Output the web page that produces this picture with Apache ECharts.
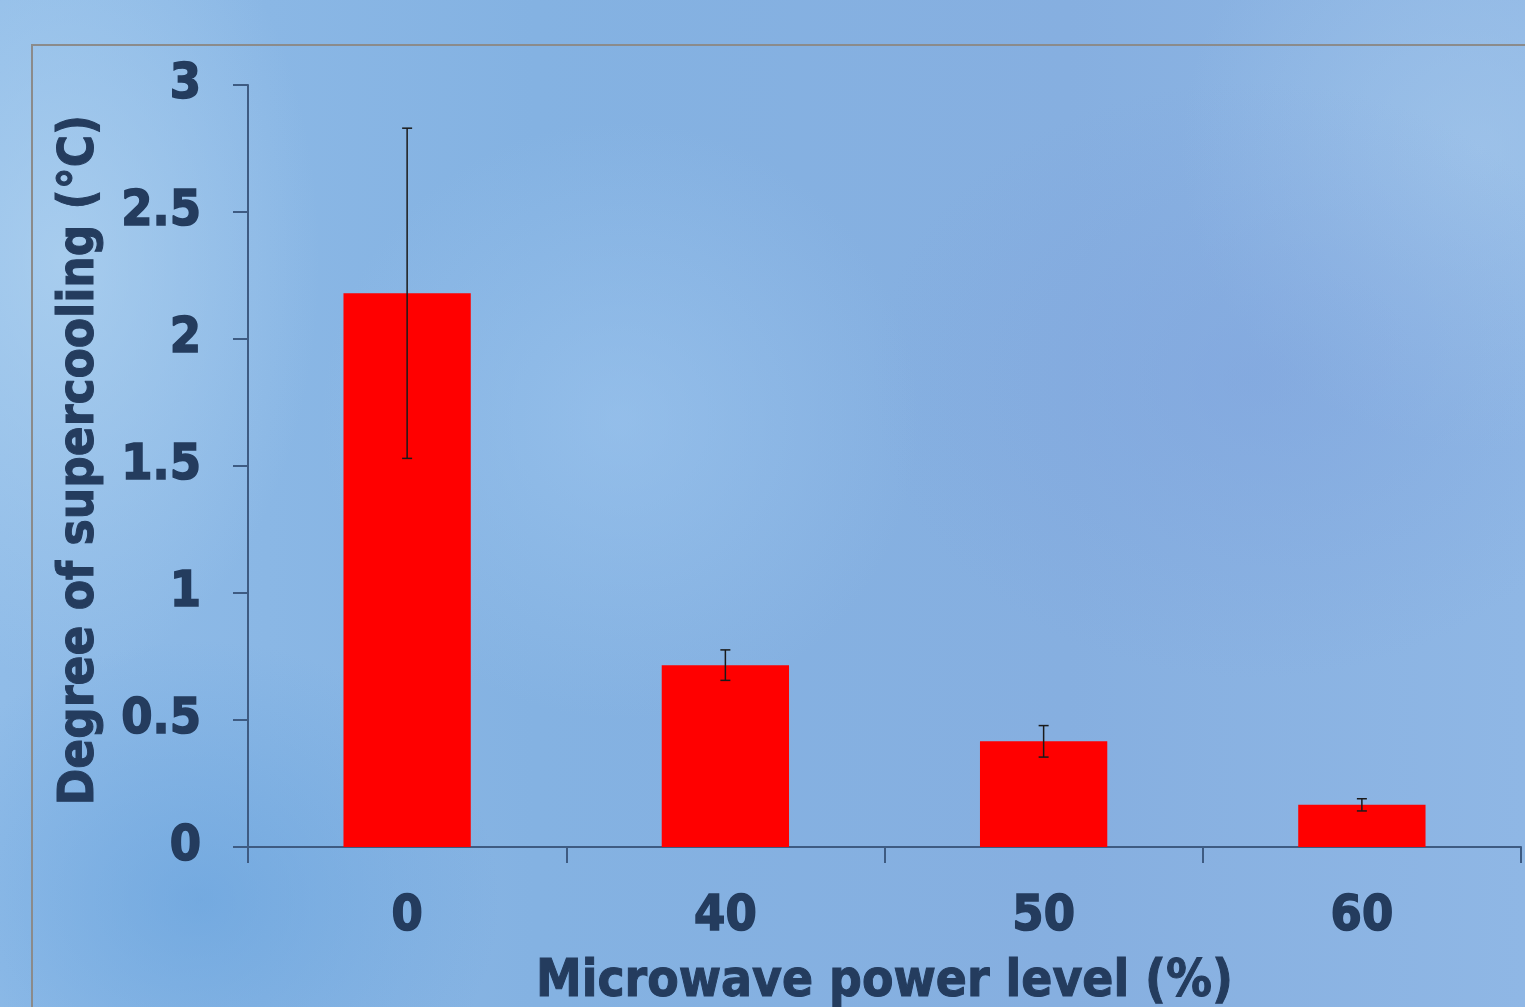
<!DOCTYPE html>
<html>
<head>
<meta charset="utf-8">
<script src="https://cdn.jsdelivr.net/npm/echarts@6/dist/echarts.min.js"></script>
<style>
html,body{margin:0;padding:0;width:1525px;height:1007px;overflow:hidden;}
body{
  background:
    radial-gradient(ellipse 260px 420px at 60px 260px, rgba(175,210,240,0.75), rgba(175,210,240,0) 100%),
    radial-gradient(ellipse 300px 300px at 620px 420px, rgba(160,200,240,0.55), rgba(160,200,240,0) 100%),
    radial-gradient(ellipse 380px 300px at 1250px 380px, rgba(125,160,220,0.45), rgba(125,160,220,0) 100%),
    radial-gradient(ellipse 300px 260px at 200px 900px, rgba(100,160,220,0.6), rgba(100,160,220,0) 100%),
    radial-gradient(ellipse 300px 300px at 1480px 150px, rgba(165,200,235,0.6), rgba(165,200,235,0) 100%),
    linear-gradient(90deg, #90bce8 0%, #84b2e2 35%, #86afe0 70%, #8fb7e5 100%);
}
#c1{width:1525px;height:1007px;}
</style>
</head>
<body>
<div id="c1"></div>
<script type="text/javascript">
// 数据
const categories = ['0', '40', '50', '60']
const values = [2.18, 0.716, 0.416, 0.166]
const errors = [0.65, 0.06, 0.062, 0.024]
const yTicks = [0, 0.5, 1, 1.5, 2, 2.5, 3]

const txtColor = '#243c5e'
const axisColor = '#3e5b82'
const fontName = '"DejaVu Sans Condensed", "DejaVu Sans", sans-serif'

let errData = values.map((v, i) => [i, v - errors[i], v + errors[i]])

let chart = echarts.init(document.getElementById('c1'))
let option = {
  backgroundColor: 'rgba(0,0,0,0)',
  animation: false,
  graphic: [{
    type: 'rect',
    shape: {x: 32, y: 45, width: 1600, height: 1100},
    style: {fill: 'none', stroke: '#8b8b8b', lineWidth: 2},
    silent: true
  }],
  grid: {left: 248, width: 1273, top: 85, height: 762, containLabel: false, outerBoundsMode: 'none'},
  xAxis: {
    type: 'category',
    data: categories,
    boundaryGap: true,
    name: 'Microwave power level (%)',
    nameLocation: 'middle',
    nameGap: 110,
    nameTextStyle: {color: txtColor, fontSize: 51, fontWeight: 'bold', fontFamily: fontName,
      textBorderColor: txtColor, textBorderWidth: 1},
    axisLine: {show: true, lineStyle: {color: axisColor, width: 2}},
    axisTick: {show: true, length: 16, lineStyle: {color: axisColor, width: 2}},
    axisLabel: {color: txtColor, fontSize: 50, fontWeight: 'bold', fontFamily: fontName, margin: 45,
      textBorderColor: txtColor, textBorderWidth: 1.5}
  },
  yAxis: {
    type: 'value',
    min: 0,
    max: 3,
    interval: 0.5,
    name: 'Degree of supercooling (°C)',
    nameLocation: 'middle',
    nameGap: 143,
    nameTextStyle: {color: txtColor, fontSize: 49, fontWeight: 'bold', fontFamily: fontName,
      textBorderColor: txtColor, textBorderWidth: 1, padding: [0, 0, 0, 12]},
    splitLine: {show: false},
    axisLine: {show: true, lineStyle: {color: axisColor, width: 2}},
    axisTick: {show: true, length: 15, lineStyle: {color: axisColor, width: 2}},
    axisLabel: {
      color: txtColor, fontSize: 50, fontWeight: 'bold', fontFamily: fontName, margin: 47,
      textBorderColor: txtColor, textBorderWidth: 1.5, padding: [8, 0, 0, 0],
      formatter: function (v) {
        return yTicks.indexOf(v) > -1 ? String(v) : ''
      }
    }
  },
  series: [{
    name: 'supercooling',
    type: 'bar',
    data: values,
    barWidth: '40%',
    itemStyle: {color: '#ff0000'},
    z: 2
  }, {
    name: 'error',
    type: 'custom',
    data: errData,
    z: 3,
    renderItem: function (params, api) {
      let i = api.value(0)
      let lo = api.coord([i, api.value(1)])
      let hi = api.coord([i, api.value(2)])
      let half = 5
      let st = {stroke: '#1a1a1a', lineWidth: 1.5}
      return {
        type: 'group',
        children: [
          {type: 'line', shape: {x1: hi[0], y1: hi[1], x2: lo[0], y2: lo[1]}, style: st},
          {type: 'line', shape: {x1: hi[0] - half, y1: hi[1], x2: hi[0] + half, y2: hi[1]}, style: st},
          {type: 'line', shape: {x1: lo[0] - half, y1: lo[1], x2: lo[0] + half, y2: lo[1]}, style: st}
        ]
      }
    }
  }]
}
chart.setOption(option)
</script>
</body>
</html>
